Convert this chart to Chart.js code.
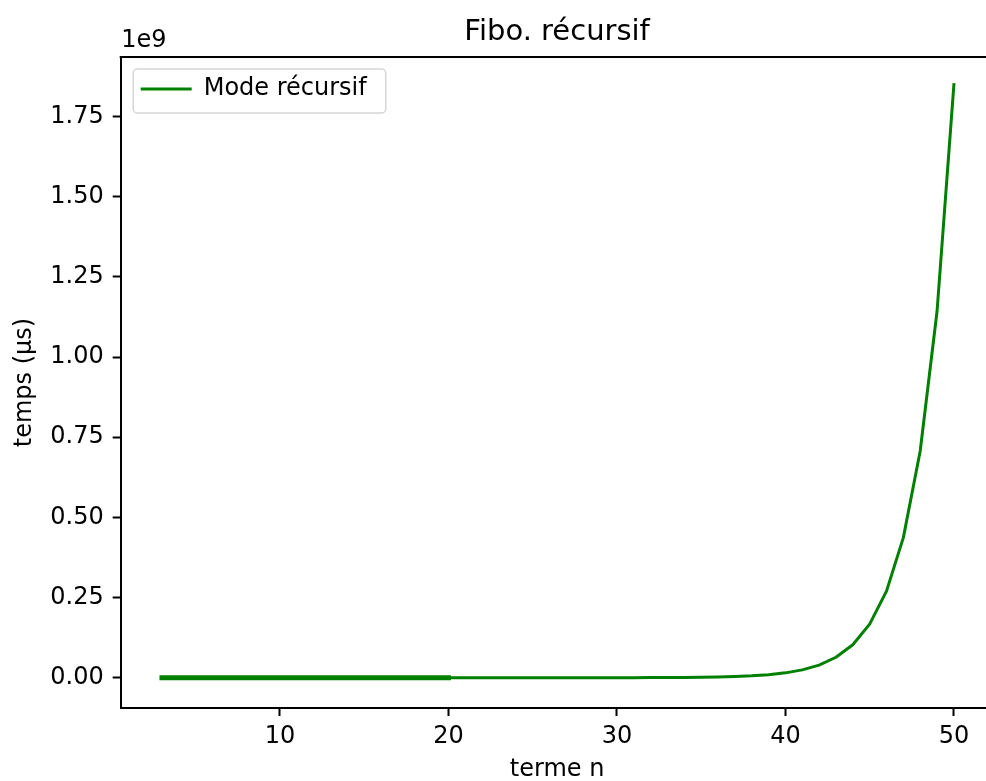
<!DOCTYPE html>
<html>
<head>
<meta charset="utf-8">
<script src="https://cdn.jsdelivr.net/npm/chart.js@4.4.1/dist/chart.umd.min.js"></script>
<style>
  html, body { margin: 0; padding: 0; background: #fff; overflow: hidden; }
  #wrap { width: 996px; height: 781px; }
</style>
</head>
<body>
<div id="wrap"><canvas id="fibo" width="996" height="781"></canvas></div>
<script>
// termes n et temps mesurés (µs)
const termes = [3, 4, 5, 6, 7, 8, 9, 10, 11, 12, 13, 14, 15, 16, 17, 18, 19, 20,
  21, 22, 23, 24, 25, 26, 27, 28, 29, 30, 31, 32, 33, 34, 35, 36, 37, 38, 39, 40,
  41, 42, 43, 44, 45, 46, 47, 48, 49, 50];
const temps = [1, 1, 1, 1, 2, 3, 5, 8, 13, 21, 34, 55, 90, 145, 230, 380, 610, 990,
  1600, 2600, 4200, 6800, 11000, 18000, 29000, 47000, 76000, 122000, 198000, 320000,
  520000, 840000, 1360000, 2200000, 3550000, 5750000, 9300000, 15100000,
  24400000, 39400000, 63800000, 103000000, 167000000, 270000000, 437000000,
  707000000, 1143000000, 1850000000];
// la partie 3..20 apparait en trait plus epais
const termesDebut = [3, 4, 5, 6, 7, 8, 9, 10, 11, 12, 13, 14, 15, 16, 17, 18, 19, 20];
const xTicks = [10, 20, 30, 40, 50];
const yTicks = [0, 0.25e9, 0.5e9, 0.75e9, 1.0e9, 1.25e9, 1.5e9, 1.75e9];

const vert = '#008000';
const police = 'DejaVu Sans';

const points = termes.map((n, i) => ({ x: n, y: temps[i] }));
const pointsDebut = termesDebut.map(n => ({ x: n, y: temps[termes.indexOf(n)] }));

// legende dans les axes + cadre, titre, "1e9" facon matplotlib
const decor = {
    id: 'decor',
    beforeDraw(chart) {
        const lg = chart.legend;
        const a = chart.chartArea;
        if (!lg) return;
        // on place la legende en haut a gauche dans la zone du graphe
        const h = lg.height;
        lg.left = a.left;
        lg.top = a.top;
        lg.right = a.left + lg.width;
        lg.bottom = a.top + h;

        const ctx = chart.ctx;
        ctx.save();
        ctx.font = '24px "' + police + '"';
        const tw = ctx.measureText('Mode récursif').width;
        const x = a.left + 12.5, y = a.top + 12;
        const w = (a.left + 20 + 51 + 12 + tw + 19) - x, hh = 44;
        ctx.beginPath();
        ctx.roundRect(x, y, w, hh, 4);
        ctx.fillStyle = 'rgba(255,255,255,0.8)';
        ctx.fill();
        ctx.strokeStyle = '#d6d6d6';
        ctx.lineWidth = 1.5;
        ctx.stroke();
        ctx.restore();
    },
    afterDraw(chart) {
        const ctx = chart.ctx;
        const a = chart.chartArea;
        ctx.save();
        // bord haut des axes
        ctx.strokeStyle = '#000';
        ctx.lineWidth = 2;
        ctx.beginPath();
        ctx.moveTo(a.left - 1, a.top);
        ctx.lineTo(a.right + 5, a.top);
        ctx.stroke();

        ctx.fillStyle = '#000';
        ctx.textBaseline = 'alphabetic';
        ctx.textAlign = 'center';
        ctx.font = '29px "' + police + '"';
        ctx.fillText('Fibo. récursif', (a.left + a.right) / 2, 40);

        ctx.textAlign = 'left';
        ctx.font = '24px "' + police + '"';
        ctx.fillText('1e9', a.left + 0.5, 46.5);
        ctx.restore();
    }
};

new Chart(document.getElementById('fibo'), {
    type: 'line',
    data: {
        datasets: [{
            label: 'Mode récursif',
            data: points,
            borderColor: vert,
            backgroundColor: vert,
            borderWidth: 3,
            borderCapStyle: 'square',
            borderJoinStyle: 'round',
            pointRadius: 0,
            tension: 0
        }, {
            label: 'debut',
            data: pointsDebut,
            borderColor: vert,
            backgroundColor: vert,
            borderWidth: 5,
            borderCapStyle: 'square',
            pointRadius: 0,
            tension: 0
        }]
    },
    options: {
        responsive: false,
        animation: false,
        layout: { padding: { top: 57, right: 2.5, bottom: 0, left: 0 } },
        plugins: {
            title: { display: false },
            tooltip: { enabled: false },
            legend: {
                position: 'chartArea',
                align: 'start',
                labels: {
                    filter: item => item.datasetIndex === 0,
                    usePointStyle: true,
                    pointStyle: 'line',
                    pointStyleWidth: 51,
                    padding: 20,
                    color: '#000',
                    font: { family: police, size: 24 }
                }
            }
        },
        scales: {
            x: {
                type: 'linear',
                min: 0.55,
                max: 52.35,
                afterBuildTicks: s => { s.ticks = xTicks.map(v => ({ value: v })); },
                afterFit: s => { s.height = 73; },
                ticks: {
                    color: '#000',
                    padding: 6,
                    maxRotation: 0,
                    font: { family: police, size: 24 },
                    callback: v => String(v)
                },
                grid: { drawOnChartArea: false, drawTicks: true, tickLength: 8, tickWidth: 2, tickColor: '#000' },
                border: { display: true, color: '#000', width: 2 },
                title: {
                    display: true,
                    text: 'terme n',
                    color: '#000',
                    font: { family: police, size: 24, lineHeight: 0.9 },
                    padding: { top: 0, bottom: 0 }
                }
            },
            y: {
                type: 'linear',
                min: -0.0945e9,
                max: 1.936e9,
                afterBuildTicks: s => { s.ticks = yTicks.map(v => ({ value: v })); },
                afterFit: s => { s.width = 120.7; },
                ticks: {
                    color: '#000',
                    padding: 9,
                    font: { family: police, size: 24 },
                    callback: v => (v / 1e9).toFixed(2)
                },
                grid: { drawOnChartArea: false, drawTicks: true, tickLength: 8, tickWidth: 2, tickColor: '#000' },
                border: { display: true, color: '#000', width: 2 },
                title: {
                    display: true,
                    text: 'temps (µs)',
                    color: '#000',
                    font: { family: police, size: 24 },
                    padding: { top: 10, bottom: 0 }
                }
            }
        }
    },
    plugins: [decor]
});
</script>
</body>
</html>
